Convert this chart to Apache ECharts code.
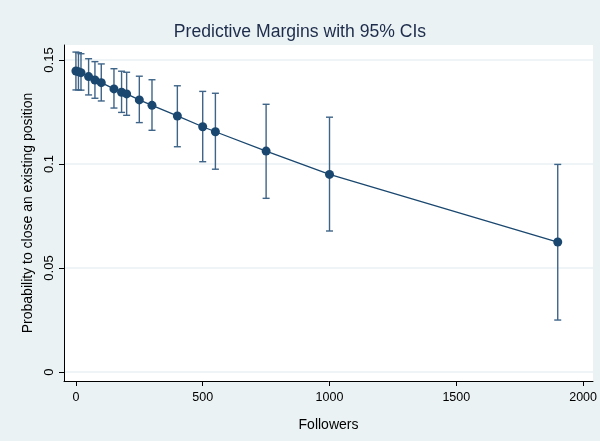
<!DOCTYPE html>
<html>
<head>
<meta charset="utf-8">
<script src="https://cdn.jsdelivr.net/npm/echarts@6/dist/echarts.min.js"></script>
<style>html,body{margin:0;padding:0;background:#EAF2F3;}#c{width:600px;height:441px;}</style>
</head>
<body>
<div id="c"></div>
<script>
const followers = [0, 10, 20, 50, 75, 100, 150, 180, 200, 250, 300, 400, 500, 550, 750, 1000, 1900];
const margin = [0.1447, 0.1443, 0.1439, 0.1420, 0.1404, 0.1391, 0.1361, 0.1345, 0.1337, 0.1308, 0.1282, 0.1231, 0.1179, 0.1155, 0.1062, 0.0950, 0.0625];
const lower = [0.1356, 0.1356, 0.1355, 0.1332, 0.1316, 0.1303, 0.1269, 0.1248, 0.1234, 0.1199, 0.1162, 0.1083, 0.1011, 0.0975, 0.0835, 0.0678, 0.0250];
const upper = [0.1538, 0.1535, 0.1530, 0.1506, 0.1492, 0.1481, 0.1458, 0.1446, 0.1441, 0.1422, 0.1405, 0.1376, 0.1349, 0.1340, 0.1287, 0.1225, 0.0998];
const xTicks = [0, 500, 1000, 1500, 2000];
const yTicks = [0, 0.05, 0.1, 0.15];

const chart = echarts.init(document.getElementById('c'), null, {renderer: 'canvas'});
const font = 'Liberation Sans, Arial, sans-serif';
const navy = '#1A476F';
const ciColor = '#3E6488';

chart.setOption({
  backgroundColor: '#EAF2F3',
  animation: false,
  title: {
    text: 'Predictive Margins with 95% CIs',
    left: 'center', top: 18,
    textStyle: {fontFamily: font, fontSize: 17.6, fontWeight: 'normal', color: '#1E2C4C'}
  },
  grid: {left: 64, top: 45, right: 5, bottom: 60, show: true, backgroundColor: '#FFFFFF', borderWidth: 0},
  xAxis: {
    type: 'value', min: -47, max: 2039,
    name: 'Followers', nameLocation: 'middle', nameGap: 37,
    nameTextStyle: {fontFamily: font, fontSize: 14, color: '#000'},
    axisLine: {show: true, onZero: false, lineStyle: {color: '#000', width: 1}},
    axisTick: {show: true, length: 5, customValues: xTicks, lineStyle: {color: '#000'}},
    axisLabel: {customValues: xTicks, fontFamily: font, fontSize: 12.5, color: '#000', margin: 10,
      formatter: v => String(v)},
    splitLine: {show: false}
  },
  yAxis: {
    type: 'value', min: -0.0043, max: 0.1572,
    name: 'Probability to close an existing position', nameLocation: 'middle', nameGap: 25,
    nameTextStyle: {fontFamily: font, fontSize: 14, color: '#000'},
    axisLine: {show: true, onZero: false, lineStyle: {color: '#000', width: 1}},
    axisTick: {show: true, length: 5, customValues: yTicks, lineStyle: {color: '#000'}},
    axisLabel: {customValues: yTicks, rotate: 90, fontFamily: font, fontSize: 13, color: '#000', margin: 8,
      formatter: v => String(v)},
    splitLine: {show: true, lineStyle: {color: '#EAF2F3', width: 1.5}}
  },
  series: [
    {
      type: 'custom',
      data: followers.map((f, i) => [f, lower[i], upper[i]]),
      renderItem: function (params, api) {
        const x = api.value(0);
        const lo = api.coord([x, api.value(1)]);
        const hi = api.coord([x, api.value(2)]);
        const hw = 3.5;
        const st = {stroke: ciColor, lineWidth: 1.4};
        return {
          type: 'group',
          children: [
            {type: 'line', shape: {x1: lo[0], y1: lo[1], x2: hi[0], y2: hi[1]}, style: st},
            {type: 'line', shape: {x1: lo[0] - hw, y1: lo[1], x2: lo[0] + hw, y2: lo[1]}, style: st},
            {type: 'line', shape: {x1: hi[0] - hw, y1: hi[1], x2: hi[0] + hw, y2: hi[1]}, style: st}
          ]
        };
      },
      z: 2
    },
    {
      type: 'line',
      data: followers.map((f, i) => [f, margin[i]]),
      symbol: 'circle', symbolSize: 9,
      lineStyle: {color: navy, width: 1.3},
      itemStyle: {color: navy},
      z: 3
    }
  ]
});
</script>
</body>
</html>
